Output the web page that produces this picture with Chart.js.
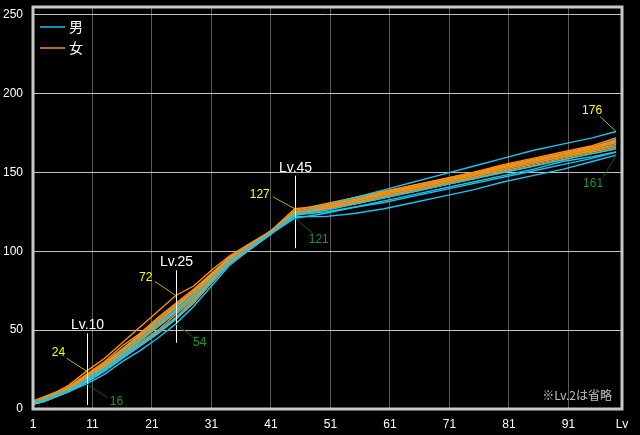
<!DOCTYPE html>
<html><head><meta charset="utf-8">
<script src="https://cdn.jsdelivr.net/npm/chart.js@4"></script>
<style>html,body{margin:0;padding:0;background:#000;}#wrap{width:640px;height:435px;}</style>
</head><body><div id="wrap"><canvas id="c" width="640" height="435"></canvas></div>
<script>
// Levels at which values were read
const levels = [1,3,5,7,10,13,16,19,22,25,28,31,34,37,41,45,50,55,60,65,70,75,80,85,90,95,99];
// 男 (male) series
const male1 = [4,6,9,12,19,26,34,43,52,61,71,83,94,102,112,124,129,134,139,144,149,154,159,164,168,172,176];
const male2 = [4,6,9,12,18,25,33,41,49,58,68,80,92,100,111,122,122,124,127,131,135,139,144,148,152,157,161];
const male3 = [3,5,8,11,16,22,30,37,45,54,65,78,91,100,111,121,124,128,132,136,140,144,148,152,157,160,163];
const male4 = [4,6,9,12,19,27,36,45,54,63,73,84,95,103,113,125,128,132,136,140,144,148,153,157,161,165,169];
const male5 = [4,7,10,13,20,28,37,46,55,64,74,85,95,102,112,123,126,130,134,138,142,146,150,154,158,162,165];
const male6 = [3,5,8,11,17,24,32,40,48,57,68,81,93,101,111,123,125,128,131,135,139,143,147,151,155,159,163];
const male7 = [4,6,9,12,19,26,35,44,53,62,72,83,94,102,112,124,127,131,135,139,143,147,152,156,160,164,167];
const male8 = [4,6,10,13,21,29,38,47,56,65,75,86,96,103,113,125,129,133,137,141,145,149,154,158,162,166,171];
// 女 (female) series
const female1 = [5,8,11,15,24,32,42,52,62,72,78,88,97,104,113,127,129,133,137,141,145,149,154,158,162,166,170];
const female2 = [4,7,10,14,22,30,40,48,58,67,76,86,96,103,112,125,128,132,136,140,144,148,153,157,161,165,169];
const female3 = [4,6,9,13,21,28,37,46,55,65,74,85,95,102,111,124,128,132,137,141,145,149,154,158,162,166,170];
const female4 = [3,6,9,12,19,27,35,44,53,62,72,84,94,102,112,125,129,134,138,142,146,150,155,159,163,167,172];
const female5 = [4,6,9,12,20,26,34,42,50,60,70,82,93,101,111,124,127,131,135,139,143,147,152,156,160,164,168];
const female6 = [3,5,8,11,18,25,33,41,49,58,69,81,93,101,112,124,127,130,134,138,142,146,151,155,159,163,166];
const female7 = [4,7,10,13,21,29,38,47,57,66,75,85,95,103,112,126,130,134,138,142,146,150,154,158,162,166,170];
const female8 = [3,5,8,11,17,24,32,40,48,57,67,80,92,100,111,123,126,130,134,138,142,146,150,154,158,162,165];

const xTicks = [1,11,21,31,41,51,61,71,81,91,100];
const xTickLabels = ['1','11','21','31','41','51','61','71','81','91','Lv'];
const yTicks = [0,50,100,150,200,250];
const legendLabels = ['男','女'];
const markerLevels = [10,25,45];
const markerRanges = [[2.5,48],[42,88],[102,148]];
const markerLabels = ['Lv.10','Lv.25','Lv.45'];
const highLabels = [{lv:10,v:24},{lv:25,v:72},{lv:45,v:127},{lv:99,v:176}];
const lowLabels = [{lv:10,v:16},{lv:25,v:54},{lv:45,v:121},{lv:99,v:161}];
const noteText = '※Lv.2は省略';

const BLUE = '#18c4f0', ORANGE = '#ff900c';
const maleSeries = [male1,male2,male3,male4,male5,male6,male7,male8];
const femaleSeries = [female1,female2,female3,female4,female5,female6,female7,female8];
const datasets = [];
for (let i = 0; i < 8; i++) {
  datasets.push({label:'女', data: levels.map((l,j)=>({x:l,y:femaleSeries[i][j]})), borderColor:ORANGE});
  datasets.push({label:'男', data: levels.map((l,j)=>({x:l,y:maleSeries[i][j]})), borderColor:BLUE});
}
datasets.forEach(d=>{d.borderWidth=1.4;d.pointRadius=0;d.tension=0;d.fill=false;});

// offsets (px) for callouts: text, leader end
const highOff = [[-28,-18,-20,-13],[-30,-18,-21,-14],[-35,-14,-22,-12],[-24,-21,-16,-15]];
const lowOff = [[30,18,21,14],[24,19,18,14],[24,21,18,15],[-23,28,-13,22]];

const overlay = {
  id:'overlay',
  afterDatasetsDraw(chart){
    const {ctx, chartArea:a, scales:{x,y}} = chart;
    ctx.save();
    // frame
    ctx.strokeStyle = '#c8c8c8'; ctx.lineWidth = 3;
    ctx.strokeRect(a.left, a.top, a.right-a.left, a.bottom-a.top);
    // legend
    ctx.lineWidth = 1.5;
    ctx.font = '14px "Noto Sans CJK JP"';
    ctx.textBaseline = 'middle'; ctx.textAlign = 'left';
    [[BLUE,27],[ORANGE,48]].forEach((c,i)=>{
      ctx.strokeStyle = c[0];
      ctx.beginPath(); ctx.moveTo(40,c[1]); ctx.lineTo(65,c[1]); ctx.stroke();
      ctx.fillStyle = '#fff'; ctx.fillText(legendLabels[i], 69, c[1]);
    });
    // markers
    ctx.strokeStyle = '#fff'; ctx.lineWidth = 1;
    ctx.font = '14px "Liberation Sans"'; ctx.textAlign = 'center'; ctx.fillStyle='#fff';
    markerLevels.forEach((lv,i)=>{
      const px = Math.round(x.getPixelForValue(lv))+0.5;
      const t = y.getPixelForValue(markerRanges[i][1]), b = y.getPixelForValue(markerRanges[i][0]);
      ctx.beginPath(); ctx.moveTo(px,t); ctx.lineTo(px,b); ctx.stroke();
      ctx.fillText(markerLabels[i], px, t-8);
    });
    // callouts
    ctx.font = '12px "Liberation Sans"';
    const draw = (arr, offs, lineC, textC) => {
      arr.forEach((p,i)=>{
        const ax = x.getPixelForValue(p.lv), ay = y.getPixelForValue(p.v);
        const o = offs[i];
        ctx.strokeStyle = lineC; ctx.lineWidth = 1;
        ctx.beginPath(); ctx.moveTo(ax,ay); ctx.lineTo(ax+o[2],ay+o[3]); ctx.stroke();
        ctx.fillStyle = textC; ctx.fillText(String(p.v), ax+o[0], ay+o[1]);
      });
    };
    draw(highLabels, highOff, '#b4b400', '#ffff00');
    draw(lowLabels, lowOff, '#006400', '#1e961e');
    // note
    ctx.font = '12px "Noto Sans CJK JP"'; ctx.textAlign='right'; ctx.fillStyle='#c0c0c0';
    ctx.fillText(noteText, 612, 395);
    ctx.restore();
  }
};

new Chart(document.getElementById('c'), {
  type:'line',
  data:{datasets},
  options:{
    responsive:false, animation:false, maintainAspectRatio:false,
    layout:{padding:{top:0,right:18,left:0,bottom:0}},
    plugins:{legend:{display:false}, tooltip:{enabled:false}},
    scales:{
      x:{type:'linear', min:1, max:100,
        afterBuildTicks(s){ s.ticks = xTicks.map(v=>({value:v})); },
        afterFit(s){ s.height = 26; },
        grid:{color:'#5a5a5a', lineWidth:1, drawTicks:false},
        border:{display:false},
        ticks:{color:'#fff', font:{family:'Liberation Sans', size:12}, padding:8, maxRotation:0, autoSkip:false,
          callback:(v,i)=>xTickLabels[i]}
      },
      y:{type:'linear', min:0, max:255,
        afterBuildTicks(s){ s.ticks = yTicks.map(v=>({value:v})); },
        afterFit(s){ s.width = 33; s.paddingTop = 7; },
        grid:{color:'#c0c0c0', lineWidth:1, drawTicks:false},
        border:{display:false},
        ticks:{color:'#fff', font:{family:'Liberation Sans', size:12}, padding:10}
      }
    }
  },
  plugins:[overlay]
});
</script></body></html>
